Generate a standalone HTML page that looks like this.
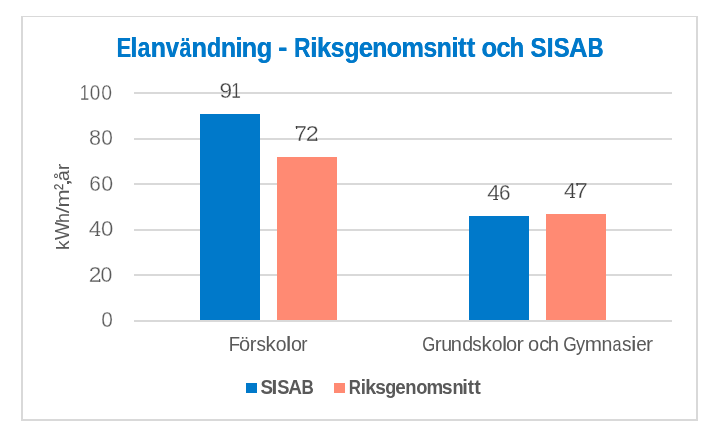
<!DOCTYPE html>
<html><head><meta charset="utf-8">
<style>
html,body{margin:0;padding:0;background:#fff;width:722px;height:445px;overflow:hidden}
svg{display:block;will-change:transform}
.sans{font-family:"Liberation Sans",sans-serif}
.serif{font-family:"Liberation Serif",serif}
</style></head>
<body>
<svg width="722" height="445" viewBox="0 0 722 445">
<rect x="0" y="0" width="722" height="445" fill="#fff"/>
<rect x="21" y="16" width="677" height="1" fill="#d9d9d9"/>
<rect x="21" y="16" width="2" height="405" fill="#d9d9d9"/>
<rect x="696" y="16" width="2" height="405" fill="#d9d9d9"/>
<rect x="21" y="419" width="677" height="2" fill="#d9d9d9"/>
<g fill="#d9d9d9">
<rect x="134" y="92" width="538" height="2"/>
<rect x="134" y="138" width="538" height="2"/>
<rect x="134" y="183" width="538" height="2"/>
<rect x="134" y="229" width="538" height="2"/>
<rect x="134" y="274" width="538" height="2"/>
<rect x="134" y="320" width="538" height="2"/>
</g>
<rect x="200" y="114" width="60" height="206" fill="#0079ca"/>
<rect x="277" y="157" width="60" height="163" fill="#ff8a73"/>
<rect x="469" y="216" width="60" height="104" fill="#0079ca"/>
<rect x="546" y="214" width="60" height="106" fill="#ff8a73"/>
<rect x="246" y="383" width="11" height="10" fill="#0079ca"/>
<rect x="334" y="383" width="11" height="10" fill="#ff8a73"/>
<text class="sans" x="116.50" y="57" font-size="27.6" fill="#0079ca" font-weight="bold" textLength="14.36" lengthAdjust="spacingAndGlyphs">E</text><text class="sans" x="116.90" y="57" font-size="27.6" fill="#0079ca" font-weight="bold" textLength="14.36" lengthAdjust="spacingAndGlyphs">E</text>
<text class="sans" x="130.26" y="57" font-size="27.6" fill="#0079ca" font-weight="bold" textLength="6.82" lengthAdjust="spacingAndGlyphs">l</text><text class="sans" x="130.66" y="57" font-size="27.6" fill="#0079ca" font-weight="bold" textLength="6.82" lengthAdjust="spacingAndGlyphs">l</text>
<text class="sans" x="137.40" y="57" font-size="27.6" fill="#0079ca" font-weight="bold" textLength="12.80" lengthAdjust="spacingAndGlyphs">a</text><text class="sans" x="137.80" y="57" font-size="27.6" fill="#0079ca" font-weight="bold" textLength="12.80" lengthAdjust="spacingAndGlyphs">a</text>
<text class="sans" x="150.55" y="57" font-size="27.6" fill="#0079ca" font-weight="bold" textLength="15.19" lengthAdjust="spacingAndGlyphs">n</text><text class="sans" x="150.95" y="57" font-size="27.6" fill="#0079ca" font-weight="bold" textLength="15.19" lengthAdjust="spacingAndGlyphs">n</text>
<text class="sans" x="165.55" y="57" font-size="27.6" fill="#0079ca" font-weight="bold" textLength="13.31" lengthAdjust="spacingAndGlyphs">v</text><text class="sans" x="165.95" y="57" font-size="27.6" fill="#0079ca" font-weight="bold" textLength="13.31" lengthAdjust="spacingAndGlyphs">v</text>
<text class="sans" x="179.42" y="57" font-size="27.6" fill="#0079ca" font-weight="bold" textLength="11.61" lengthAdjust="spacingAndGlyphs">ä</text><text class="sans" x="179.82" y="57" font-size="27.6" fill="#0079ca" font-weight="bold" textLength="11.61" lengthAdjust="spacingAndGlyphs">ä</text>
<text class="sans" x="191.33" y="57" font-size="27.6" fill="#0079ca" font-weight="bold" textLength="15.50" lengthAdjust="spacingAndGlyphs">n</text><text class="sans" x="191.73" y="57" font-size="27.6" fill="#0079ca" font-weight="bold" textLength="15.50" lengthAdjust="spacingAndGlyphs">n</text>
<text class="sans" x="206.65" y="57" font-size="27.6" fill="#0079ca" font-weight="bold" textLength="14.31" lengthAdjust="spacingAndGlyphs">d</text><text class="sans" x="207.05" y="57" font-size="27.6" fill="#0079ca" font-weight="bold" textLength="14.31" lengthAdjust="spacingAndGlyphs">d</text>
<text class="sans" x="220.66" y="57" font-size="27.6" fill="#0079ca" font-weight="bold" textLength="15.26" lengthAdjust="spacingAndGlyphs">n</text><text class="sans" x="221.06" y="57" font-size="27.6" fill="#0079ca" font-weight="bold" textLength="15.26" lengthAdjust="spacingAndGlyphs">n</text>
<text class="sans" x="235.22" y="57" font-size="27.6" fill="#0079ca" font-weight="bold" textLength="7.21" lengthAdjust="spacingAndGlyphs">i</text><text class="sans" x="235.62" y="57" font-size="27.6" fill="#0079ca" font-weight="bold" textLength="7.21" lengthAdjust="spacingAndGlyphs">i</text>
<text class="sans" x="241.38" y="57" font-size="27.6" fill="#0079ca" font-weight="bold" textLength="15.52" lengthAdjust="spacingAndGlyphs">n</text><text class="sans" x="241.78" y="57" font-size="27.6" fill="#0079ca" font-weight="bold" textLength="15.52" lengthAdjust="spacingAndGlyphs">n</text>
<text class="sans" x="256.52" y="57" font-size="27.6" fill="#0079ca" font-weight="bold" textLength="15.48" lengthAdjust="spacingAndGlyphs">g</text><text class="sans" x="256.92" y="57" font-size="27.6" fill="#0079ca" font-weight="bold" textLength="15.48" lengthAdjust="spacingAndGlyphs">g</text>
<text class="sans" x="277.91" y="57" font-size="27.6" fill="#0079ca" font-weight="bold" textLength="9.32" lengthAdjust="spacingAndGlyphs">-</text><text class="sans" x="278.31" y="57" font-size="27.6" fill="#0079ca" font-weight="bold" textLength="9.32" lengthAdjust="spacingAndGlyphs">-</text>
<text class="sans" x="293.90" y="57" font-size="27.6" fill="#0079ca" font-weight="bold" textLength="16.39" lengthAdjust="spacingAndGlyphs">R</text><text class="sans" x="294.30" y="57" font-size="27.6" fill="#0079ca" font-weight="bold" textLength="16.39" lengthAdjust="spacingAndGlyphs">R</text>
<text class="sans" x="309.92" y="57" font-size="27.6" fill="#0079ca" font-weight="bold" textLength="7.50" lengthAdjust="spacingAndGlyphs">i</text><text class="sans" x="310.32" y="57" font-size="27.6" fill="#0079ca" font-weight="bold" textLength="7.50" lengthAdjust="spacingAndGlyphs">i</text>
<text class="sans" x="316.77" y="57" font-size="27.6" fill="#0079ca" font-weight="bold" textLength="14.26" lengthAdjust="spacingAndGlyphs">k</text><text class="sans" x="317.17" y="57" font-size="27.6" fill="#0079ca" font-weight="bold" textLength="14.26" lengthAdjust="spacingAndGlyphs">k</text>
<text class="sans" x="330.59" y="57" font-size="27.6" fill="#0079ca" font-weight="bold" textLength="13.70" lengthAdjust="spacingAndGlyphs">s</text><text class="sans" x="330.99" y="57" font-size="27.6" fill="#0079ca" font-weight="bold" textLength="13.70" lengthAdjust="spacingAndGlyphs">s</text>
<text class="sans" x="344.22" y="57" font-size="27.6" fill="#0079ca" font-weight="bold" textLength="15.14" lengthAdjust="spacingAndGlyphs">g</text><text class="sans" x="344.62" y="57" font-size="27.6" fill="#0079ca" font-weight="bold" textLength="15.14" lengthAdjust="spacingAndGlyphs">g</text>
<text class="sans" x="358.54" y="57" font-size="27.6" fill="#0079ca" font-weight="bold" textLength="14.27" lengthAdjust="spacingAndGlyphs">e</text><text class="sans" x="358.94" y="57" font-size="27.6" fill="#0079ca" font-weight="bold" textLength="14.27" lengthAdjust="spacingAndGlyphs">e</text>
<text class="sans" x="372.12" y="57" font-size="27.6" fill="#0079ca" font-weight="bold" textLength="15.02" lengthAdjust="spacingAndGlyphs">n</text><text class="sans" x="372.52" y="57" font-size="27.6" fill="#0079ca" font-weight="bold" textLength="15.02" lengthAdjust="spacingAndGlyphs">n</text>
<text class="sans" x="386.40" y="57" font-size="27.6" fill="#0079ca" font-weight="bold" textLength="15.49" lengthAdjust="spacingAndGlyphs">o</text><text class="sans" x="386.80" y="57" font-size="27.6" fill="#0079ca" font-weight="bold" textLength="15.49" lengthAdjust="spacingAndGlyphs">o</text>
<text class="sans" x="401.15" y="57" font-size="27.6" fill="#0079ca" font-weight="bold" textLength="22.59" lengthAdjust="spacingAndGlyphs">m</text><text class="sans" x="401.55" y="57" font-size="27.6" fill="#0079ca" font-weight="bold" textLength="22.59" lengthAdjust="spacingAndGlyphs">m</text>
<text class="sans" x="423.22" y="57" font-size="27.6" fill="#0079ca" font-weight="bold" textLength="13.87" lengthAdjust="spacingAndGlyphs">s</text><text class="sans" x="423.62" y="57" font-size="27.6" fill="#0079ca" font-weight="bold" textLength="13.87" lengthAdjust="spacingAndGlyphs">s</text>
<text class="sans" x="436.49" y="57" font-size="27.6" fill="#0079ca" font-weight="bold" textLength="15.04" lengthAdjust="spacingAndGlyphs">n</text><text class="sans" x="436.89" y="57" font-size="27.6" fill="#0079ca" font-weight="bold" textLength="15.04" lengthAdjust="spacingAndGlyphs">n</text>
<text class="sans" x="451.26" y="57" font-size="27.6" fill="#0079ca" font-weight="bold" textLength="7.01" lengthAdjust="spacingAndGlyphs">i</text><text class="sans" x="451.66" y="57" font-size="27.6" fill="#0079ca" font-weight="bold" textLength="7.01" lengthAdjust="spacingAndGlyphs">i</text>
<text class="sans" x="457.82" y="57" font-size="27.6" fill="#0079ca" font-weight="bold" textLength="8.60" lengthAdjust="spacingAndGlyphs">t</text><text class="sans" x="458.22" y="57" font-size="27.6" fill="#0079ca" font-weight="bold" textLength="8.60" lengthAdjust="spacingAndGlyphs">t</text>
<text class="sans" x="466.62" y="57" font-size="27.6" fill="#0079ca" font-weight="bold" textLength="8.53" lengthAdjust="spacingAndGlyphs">t</text><text class="sans" x="467.02" y="57" font-size="27.6" fill="#0079ca" font-weight="bold" textLength="8.53" lengthAdjust="spacingAndGlyphs">t</text>
<text class="sans" x="481.35" y="57" font-size="27.6" fill="#0079ca" font-weight="bold" textLength="15.69" lengthAdjust="spacingAndGlyphs">o</text><text class="sans" x="481.75" y="57" font-size="27.6" fill="#0079ca" font-weight="bold" textLength="15.69" lengthAdjust="spacingAndGlyphs">o</text>
<text class="sans" x="496.19" y="57" font-size="27.6" fill="#0079ca" font-weight="bold" textLength="14.20" lengthAdjust="spacingAndGlyphs">c</text><text class="sans" x="496.59" y="57" font-size="27.6" fill="#0079ca" font-weight="bold" textLength="14.20" lengthAdjust="spacingAndGlyphs">c</text>
<text class="sans" x="509.40" y="57" font-size="27.6" fill="#0079ca" font-weight="bold" textLength="14.56" lengthAdjust="spacingAndGlyphs">h</text><text class="sans" x="509.80" y="57" font-size="27.6" fill="#0079ca" font-weight="bold" textLength="14.56" lengthAdjust="spacingAndGlyphs">h</text>
<text class="sans" x="530.37" y="57" font-size="27.6" fill="#0079ca" font-weight="bold" textLength="16.01" lengthAdjust="spacingAndGlyphs">S</text><text class="sans" x="530.77" y="57" font-size="27.6" fill="#0079ca" font-weight="bold" textLength="16.01" lengthAdjust="spacingAndGlyphs">S</text>
<text class="sans" x="546.51" y="57" font-size="27.6" fill="#0079ca" font-weight="bold" textLength="6.74" lengthAdjust="spacingAndGlyphs">I</text><text class="sans" x="546.91" y="57" font-size="27.6" fill="#0079ca" font-weight="bold" textLength="6.74" lengthAdjust="spacingAndGlyphs">I</text>
<text class="sans" x="553.55" y="57" font-size="27.6" fill="#0079ca" font-weight="bold" textLength="15.89" lengthAdjust="spacingAndGlyphs">S</text><text class="sans" x="553.95" y="57" font-size="27.6" fill="#0079ca" font-weight="bold" textLength="15.89" lengthAdjust="spacingAndGlyphs">S</text>
<text class="sans" x="568.79" y="57" font-size="27.6" fill="#0079ca" font-weight="bold" textLength="18.55" lengthAdjust="spacingAndGlyphs">A</text><text class="sans" x="569.19" y="57" font-size="27.6" fill="#0079ca" font-weight="bold" textLength="18.55" lengthAdjust="spacingAndGlyphs">A</text>
<text class="sans" x="587.55" y="57" font-size="27.6" fill="#0079ca" font-weight="bold" textLength="15.79" lengthAdjust="spacingAndGlyphs">B</text><text class="sans" x="587.95" y="57" font-size="27.6" fill="#0079ca" font-weight="bold" textLength="15.79" lengthAdjust="spacingAndGlyphs">B</text>
<text class="sans" x="228.83" y="351" font-size="20.3" fill="#595959" textLength="11.32" lengthAdjust="spacingAndGlyphs">F</text>
<text class="sans" x="238.99" y="351" font-size="20.3" fill="#595959" textLength="11.14" lengthAdjust="spacingAndGlyphs">ö</text>
<text class="sans" x="249.67" y="351" font-size="20.3" fill="#595959" textLength="6.68" lengthAdjust="spacingAndGlyphs">r</text>
<text class="sans" x="256.40" y="351" font-size="20.3" fill="#595959" textLength="9.45" lengthAdjust="spacingAndGlyphs">s</text>
<text class="sans" x="265.59" y="351" font-size="20.3" fill="#595959" textLength="10.28" lengthAdjust="spacingAndGlyphs">k</text>
<text class="sans" x="275.71" y="351" font-size="20.3" fill="#595959" textLength="10.77" lengthAdjust="spacingAndGlyphs">o</text>
<text class="sans" x="285.70" y="351" font-size="20.3" fill="#595959" textLength="5.75" lengthAdjust="spacingAndGlyphs">l</text>
<text class="sans" x="291.09" y="351" font-size="20.3" fill="#595959" textLength="10.98" lengthAdjust="spacingAndGlyphs">o</text>
<text class="sans" x="301.25" y="351" font-size="20.3" fill="#595959" textLength="6.25" lengthAdjust="spacingAndGlyphs">r</text>
<text class="sans" x="422.22" y="351" font-size="20.3" fill="#595959" textLength="13.00" lengthAdjust="spacingAndGlyphs">G</text>
<text class="sans" x="434.71" y="351" font-size="20.3" fill="#595959" textLength="6.92" lengthAdjust="spacingAndGlyphs">r</text>
<text class="sans" x="441.25" y="351" font-size="20.3" fill="#595959" textLength="10.88" lengthAdjust="spacingAndGlyphs">u</text>
<text class="sans" x="450.86" y="351" font-size="20.3" fill="#595959" textLength="11.13" lengthAdjust="spacingAndGlyphs">n</text>
<text class="sans" x="462.16" y="351" font-size="20.3" fill="#595959" textLength="10.85" lengthAdjust="spacingAndGlyphs">d</text>
<text class="sans" x="472.35" y="351" font-size="20.3" fill="#595959" textLength="9.40" lengthAdjust="spacingAndGlyphs">s</text>
<text class="sans" x="481.59" y="351" font-size="20.3" fill="#595959" textLength="10.28" lengthAdjust="spacingAndGlyphs">k</text>
<text class="sans" x="491.71" y="351" font-size="20.3" fill="#595959" textLength="10.77" lengthAdjust="spacingAndGlyphs">o</text>
<text class="sans" x="502.04" y="351" font-size="20.3" fill="#595959" textLength="5.23" lengthAdjust="spacingAndGlyphs">l</text>
<text class="sans" x="505.99" y="351" font-size="20.3" fill="#595959" textLength="11.14" lengthAdjust="spacingAndGlyphs">o</text>
<text class="sans" x="516.54" y="351" font-size="20.3" fill="#595959" textLength="7.36" lengthAdjust="spacingAndGlyphs">r</text>
<text class="sans" x="528.06" y="351" font-size="20.3" fill="#595959" textLength="11.18" lengthAdjust="spacingAndGlyphs">o</text>
<text class="sans" x="539.25" y="351" font-size="20.3" fill="#595959" textLength="9.97" lengthAdjust="spacingAndGlyphs">c</text>
<text class="sans" x="547.83" y="351" font-size="20.3" fill="#595959" textLength="11.29" lengthAdjust="spacingAndGlyphs">h</text>
<text class="sans" x="563.14" y="351" font-size="20.3" fill="#595959" textLength="13.49" lengthAdjust="spacingAndGlyphs">G</text>
<text class="sans" x="575.92" y="351" font-size="20.3" fill="#595959" textLength="9.12" lengthAdjust="spacingAndGlyphs">y</text>
<text class="sans" x="584.76" y="351" font-size="20.3" fill="#595959" textLength="17.24" lengthAdjust="spacingAndGlyphs">m</text>
<text class="sans" x="601.39" y="351" font-size="20.3" fill="#595959" textLength="10.86" lengthAdjust="spacingAndGlyphs">n</text>
<text class="sans" x="612.41" y="351" font-size="20.3" fill="#595959" textLength="9.01" lengthAdjust="spacingAndGlyphs">a</text>
<text class="sans" x="622.11" y="351" font-size="20.3" fill="#595959" textLength="9.51" lengthAdjust="spacingAndGlyphs">s</text>
<text class="sans" x="630.93" y="351" font-size="20.3" fill="#595959" textLength="5.51" lengthAdjust="spacingAndGlyphs">i</text>
<text class="sans" x="636.30" y="351" font-size="20.3" fill="#595959" textLength="10.52" lengthAdjust="spacingAndGlyphs">e</text>
<text class="sans" x="645.99" y="351" font-size="20.3" fill="#595959" textLength="7.06" lengthAdjust="spacingAndGlyphs">r</text>
<text class="sans" x="260.42" y="394" font-size="20" fill="#595959" font-weight="bold" textLength="12.48" lengthAdjust="spacingAndGlyphs">S</text>
<text class="sans" x="271.58" y="394" font-size="20" fill="#595959" font-weight="bold" textLength="5.78" lengthAdjust="spacingAndGlyphs">I</text>
<text class="sans" x="277.35" y="394" font-size="20" fill="#595959" font-weight="bold" textLength="12.22" lengthAdjust="spacingAndGlyphs">S</text>
<text class="sans" x="288.37" y="394" font-size="20" fill="#595959" font-weight="bold" textLength="13.69" lengthAdjust="spacingAndGlyphs">A</text>
<text class="sans" x="301.54" y="394" font-size="20" fill="#595959" font-weight="bold" textLength="12.31" lengthAdjust="spacingAndGlyphs">B</text>
<text class="sans" x="348.76" y="394" font-size="20" fill="#595959" font-weight="bold" textLength="12.18" lengthAdjust="spacingAndGlyphs">R</text>
<text class="sans" x="360.75" y="394" font-size="20" fill="#595959" font-weight="bold" textLength="5.21" lengthAdjust="spacingAndGlyphs">i</text>
<text class="sans" x="365.15" y="394" font-size="20" fill="#595959" font-weight="bold" textLength="10.93" lengthAdjust="spacingAndGlyphs">k</text>
<text class="sans" x="375.31" y="394" font-size="20" fill="#595959" font-weight="bold" textLength="10.68" lengthAdjust="spacingAndGlyphs">s</text>
<text class="sans" x="385.25" y="394" font-size="20" fill="#595959" font-weight="bold" textLength="10.98" lengthAdjust="spacingAndGlyphs">g</text>
<text class="sans" x="395.34" y="394" font-size="20" fill="#595959" font-weight="bold" textLength="10.46" lengthAdjust="spacingAndGlyphs">e</text>
<text class="sans" x="405.25" y="394" font-size="20" fill="#595959" font-weight="bold" textLength="11.23" lengthAdjust="spacingAndGlyphs">n</text>
<text class="sans" x="416.27" y="394" font-size="20" fill="#595959" font-weight="bold" textLength="11.19" lengthAdjust="spacingAndGlyphs">o</text>
<text class="sans" x="426.45" y="394" font-size="20" fill="#595959" font-weight="bold" textLength="16.72" lengthAdjust="spacingAndGlyphs">m</text>
<text class="sans" x="441.84" y="394" font-size="20" fill="#595959" font-weight="bold" textLength="10.82" lengthAdjust="spacingAndGlyphs">s</text>
<text class="sans" x="452.51" y="394" font-size="20" fill="#595959" font-weight="bold" textLength="11.11" lengthAdjust="spacingAndGlyphs">n</text>
<text class="sans" x="462.31" y="394" font-size="20" fill="#595959" font-weight="bold" textLength="5.63" lengthAdjust="spacingAndGlyphs">i</text>
<text class="sans" x="467.78" y="394" font-size="20" fill="#595959" font-weight="bold" textLength="6.28" lengthAdjust="spacingAndGlyphs">t</text>
<text class="sans" x="474.28" y="394" font-size="20" fill="#595959" font-weight="bold" textLength="6.56" lengthAdjust="spacingAndGlyphs">t</text>
<defs><mask id="m0" maskUnits="userSpaceOnUse" x="0" y="0" width="722" height="445"><text class="sans" x="79.67" y="100" font-size="22" fill="#fff" textLength="9.45" lengthAdjust="spacingAndGlyphs" stroke="#000" stroke-width="0.4">1</text>
<text class="sans" x="89.74" y="100" font-size="22" fill="#fff" textLength="10.50" lengthAdjust="spacingAndGlyphs" stroke="#000" stroke-width="0.4">0</text>
<text class="sans" x="101.25" y="100" font-size="22" fill="#fff" textLength="10.79" lengthAdjust="spacingAndGlyphs" stroke="#000" stroke-width="0.4">0</text>
<text class="sans" x="89.11" y="145" font-size="22" fill="#fff" textLength="12.05" lengthAdjust="spacingAndGlyphs" stroke="#000" stroke-width="0.4">8</text>
<text class="sans" x="101.28" y="145" font-size="22" fill="#fff" textLength="11.65" lengthAdjust="spacingAndGlyphs" stroke="#000" stroke-width="0.4">0</text>
<text class="sans" x="89.23" y="191" font-size="22" fill="#fff" textLength="11.62" lengthAdjust="spacingAndGlyphs" stroke="#000" stroke-width="0.4">6</text>
<text class="sans" x="101.36" y="191" font-size="22" fill="#fff" textLength="11.89" lengthAdjust="spacingAndGlyphs" stroke="#000" stroke-width="0.4">0</text>
<text class="sans" x="88.87" y="236" font-size="22" fill="#fff" textLength="12.36" lengthAdjust="spacingAndGlyphs" stroke="#000" stroke-width="0.4">4</text>
<text class="sans" x="100.92" y="236" font-size="22" fill="#fff" textLength="12.32" lengthAdjust="spacingAndGlyphs" stroke="#000" stroke-width="0.4">0</text>
<text class="sans" x="88.86" y="282" font-size="22" fill="#fff" textLength="12.65" lengthAdjust="spacingAndGlyphs" stroke="#000" stroke-width="0.4">2</text>
<text class="sans" x="100.60" y="282" font-size="22" fill="#fff" textLength="11.85" lengthAdjust="spacingAndGlyphs" stroke="#000" stroke-width="0.4">0</text>
<text class="sans" x="101.28" y="327" font-size="22" fill="#fff" textLength="11.65" lengthAdjust="spacingAndGlyphs" stroke="#000" stroke-width="0.4">0</text>
<rect x="95.2" y="235" width="4.6" height="1" fill="#fff"/>
<rect x="99" y="279" width="1.2" height="3" fill="#fff"/></mask>
<mask id="m1" maskUnits="userSpaceOnUse" x="0" y="0" width="722" height="445"><text class="sans" x="219.47" y="98" font-size="22" fill="#fff" textLength="12.63" lengthAdjust="spacingAndGlyphs" stroke="#000" stroke-width="0.4">9</text>
<text class="sans" x="231.34" y="98" font-size="22" fill="#fff" textLength="9.63" lengthAdjust="spacingAndGlyphs" stroke="#000" stroke-width="0.4">1</text>
<text class="sans" x="294.57" y="141" font-size="22" fill="#fff" textLength="12.52" lengthAdjust="spacingAndGlyphs" stroke="#000" stroke-width="0.4">7</text>
<text class="sans" x="305.86" y="141" font-size="22" fill="#fff" textLength="13.02" lengthAdjust="spacingAndGlyphs" stroke="#000" stroke-width="0.4">2</text>
<text class="sans" x="487.29" y="200" font-size="22" fill="#fff" textLength="12.57" lengthAdjust="spacingAndGlyphs" stroke="#000" stroke-width="0.4">4</text>
<text class="sans" x="499.02" y="200" font-size="22" fill="#fff" textLength="11.48" lengthAdjust="spacingAndGlyphs" stroke="#000" stroke-width="0.4">6</text>
<text class="sans" x="563.88" y="198" font-size="22" fill="#fff" textLength="12.01" lengthAdjust="spacingAndGlyphs" stroke="#000" stroke-width="0.4">4</text>
<text class="sans" x="574.75" y="198" font-size="22" fill="#fff" textLength="13.15" lengthAdjust="spacingAndGlyphs" stroke="#000" stroke-width="0.4">7</text>
<rect x="493.2" y="199" width="4.8" height="1" fill="#fff"/>
<rect x="570" y="197" width="4.8" height="1" fill="#fff"/>
<rect x="296" y="126" width="1.2" height="3" fill="#fff"/>
<rect x="315.8" y="137.6" width="1.2" height="3" fill="#fff"/>
<rect x="576.6" y="183" width="1.2" height="3" fill="#fff"/></mask></defs>
<rect x="0" y="0" width="722" height="445" fill="#595959" mask="url(#m0)"/>
<rect x="0" y="0" width="722" height="445" fill="#404040" mask="url(#m1)"/>
<g transform="translate(69.4,207.5) rotate(-90)"><text class="sans" fill="#595959" x="-42.45" y="0" font-size="19" textLength="9.56" lengthAdjust="spacingAndGlyphs">k</text><text class="sans" fill="#595959" x="-32.54" y="0" font-size="19.4" textLength="17.98" lengthAdjust="spacingAndGlyphs">W</text><text class="sans" fill="#595959" x="-15.45" y="0" font-size="19" textLength="9.99" lengthAdjust="spacingAndGlyphs">h</text><text class="sans" fill="#595959" x="-5.66" y="0" font-size="19" textLength="6.53" lengthAdjust="spacingAndGlyphs">/</text><text class="sans" fill="#595959" x="0.02" y="0" font-size="18" textLength="18.12" lengthAdjust="spacingAndGlyphs">m</text><text class="sans" fill="#595959" x="17.46" y="0" font-size="23" textLength="6.18" lengthAdjust="spacingAndGlyphs">²</text><text class="sans" fill="#595959" x="20.80" y="0" font-size="18" textLength="8.41" lengthAdjust="spacingAndGlyphs">,</text><text class="sans" fill="#595959" x="26.51" y="0" font-size="18" textLength="10.64" lengthAdjust="spacingAndGlyphs">å</text><text class="sans" fill="#595959" x="37.57" y="0" font-size="18" textLength="6.33" lengthAdjust="spacingAndGlyphs">r</text></g>
</svg>
</body></html>
